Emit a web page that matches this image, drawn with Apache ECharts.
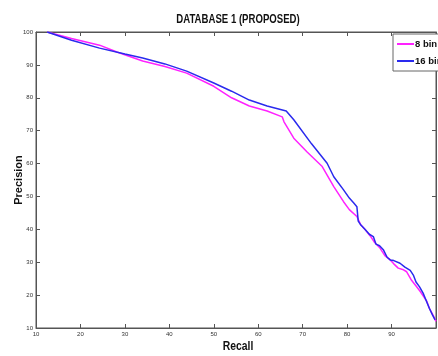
<!DOCTYPE html>
<html>
<head>
<meta charset="utf-8">
<script src="https://cdn.jsdelivr.net/npm/echarts@6/dist/echarts.min.js"></script>
<style>
  html, body { margin: 0; padding: 0; background: #fff; }
  #chart { width: 438px; height: 356px; }
</style>
</head>
<body>
<div id="chart"></div>
<script>
// recall / precision
const recall8 = [12.5, 18, 24.3, 28.2, 34, 39, 43.9, 50, 54, 58, 62, 65.4, 65.8, 68, 71, 74.4, 77, 79.2, 80.5, 82.2, 83.1, 84, 85.2, 86.2, 87.4, 88.5, 89.7, 90.5, 91.5, 92.5, 93.4, 94.5, 95.6, 96.5, 97.9, 98.5, 99.3, 100];
const prec8 = [100, 98, 96, 93.9, 91.2, 89.5, 87.5, 83.5, 80, 77.5, 76, 74.2, 72.7, 67.7, 63.5, 59.1, 53, 48.4, 46, 43.9, 41.3, 40, 38, 36, 34.3, 32, 30.7, 29.5, 28.2, 27.8, 27.1, 24.5, 22.6, 21, 18.2, 16, 14, 12];

const recall16 = [12.5, 18, 24.3, 30, 34, 39, 43.9, 50, 54, 58, 62, 66.3, 68, 72, 75.5, 77, 79.2, 80.5, 81.5, 82.2, 82.5, 83.1, 84, 85, 85.9, 86.5, 87.3, 88.2, 89, 89.7, 90.5, 91.9, 93, 94.2, 94.9, 95.5, 96.3, 97.1, 97.9, 98.5, 99.2, 99.8];
const prec16 = [100, 97.5, 95.1, 93.3, 92.1, 90.3, 88.1, 84.5, 82, 79.3, 77.5, 76, 73.3, 66, 60.1, 56, 52, 49.5, 48, 46.9, 42.5, 41.3, 40, 38.5, 37.8, 35.5, 35, 33.7, 31.5, 30.7, 30.5, 29.7, 28.5, 27.5, 26.1, 24, 22.5, 20.6, 18, 16, 14, 12.5];

const seriesNames = ["8 bin", "16 bin"];
const xTicks = [10, 100, 10]; // min, max, step
const yTicks = [10, 100, 10];

const zip = (a, b) => a.map((v, i) => [v, b[i]]);

const chart = echarts.init(document.getElementById("chart"));
const axisLine = { show: true, lineStyle: { color: "#555", width: 1 } };
const inTick = { inside: true, length: 4, lineStyle: { color: "#555" } };
const tickLabel = { fontSize: 6, color: "#333", fontFamily: "Arial" };

chart.setOption({
  animation: false,
  // title and axis names placed like the source picture
  graphic: [
    {
      type: "text", x: 238, y: 14, scaleX: 0.8,
      style: { text: "DATABASE 1 (PROPOSED)", textAlign: "center", textVerticalAlign: "top", fill: "#111", font: "bold 12px Arial" }
    },
    {
      type: "text", x: 238, y: 340, scaleX: 0.8,
      style: { text: "Recall", textAlign: "center", textVerticalAlign: "top", fill: "#111", font: "bold 13px Arial" }
    },
    {
      type: "text", x: 19, y: 180, rotation: Math.PI / 2,
      style: { text: "Precision", textAlign: "center", textVerticalAlign: "middle", fill: "#111", font: "bold 11px Arial" }
    }
  ],
  legend: {
    data: seriesNames,
    orient: "vertical",
    left: 393,
    top: 34,
    padding: [5, 6, 5, 4],
    itemGap: 7,
    itemWidth: 17,
    itemHeight: 2,
    icon: "rect",
    backgroundColor: "#fff",
    borderColor: "#666",
    borderWidth: 1,
    textStyle: { fontSize: 9.5, fontWeight: "bold", color: "#111", padding: [0, 0, 0, -4], fontFamily: "Arial" }
  },
  grid: { left: 36, top: 32, right: 2, bottom: 28, show: true, borderColor: "#555", borderWidth: 1, outerBoundsMode: "none", containLabel: false },
  xAxis: [
    {
      type: "value", min: xTicks[0], max: xTicks[1], interval: xTicks[2],
      axisLine, splitLine: { show: false }, axisTick: inTick,
      axisLabel: { ...tickLabel, margin: 3, showMaxLabel: false }
    },
    {
      type: "value", position: "top", min: xTicks[0], max: xTicks[1], interval: xTicks[2],
      axisLine, splitLine: { show: false }, axisTick: inTick,
      axisLabel: { show: false }
    }
  ],
  yAxis: [
    {
      type: "value", min: yTicks[0], max: yTicks[1], interval: yTicks[2],
      axisLine, splitLine: { show: false }, axisTick: inTick,
      axisLabel: { ...tickLabel, margin: 3 }
    },
    {
      type: "value", position: "right", min: yTicks[0], max: yTicks[1], interval: yTicks[2],
      axisLine, splitLine: { show: false }, axisTick: inTick,
      axisLabel: { show: false }
    }
  ],
  series: [
    {
      name: seriesNames[0], type: "line", showSymbol: false, symbol: "none",
      color: "#ff22ff", lineStyle: { width: 1.5, color: "#ff22ff" },
      data: zip(recall8, prec8)
    },
    {
      name: seriesNames[1], type: "line", showSymbol: false, symbol: "none",
      color: "#2a2aee", lineStyle: { width: 1.5, color: "#2a2aee" },
      data: zip(recall16, prec16)
    }
  ]
});
</script>
</body>
</html>
